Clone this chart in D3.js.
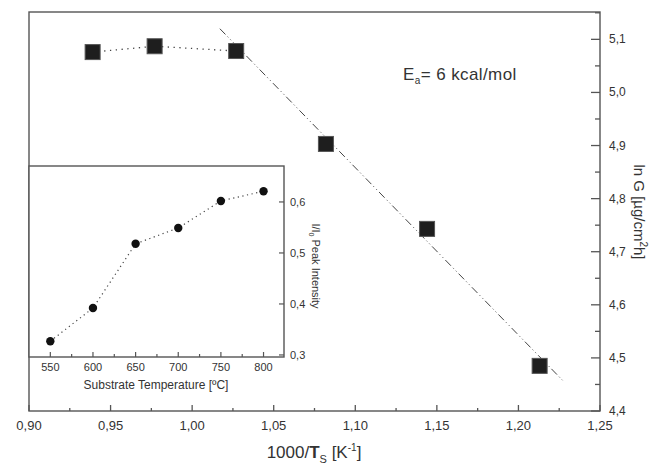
<!DOCTYPE html>
<html><head><meta charset="utf-8">
<script src="https://cdn.jsdelivr.net/npm/d3@7"></script>
<style>body{margin:0;background:#fff}svg{display:block}text{font-family:"Liberation Sans",Arial,sans-serif;fill:#333}</style>
</head><body><svg id="c" width="657" height="466"></svg>
<script>
// Main data: 1000/Ts vs ln G
const mainX = [0.939, 0.977, 1.027, 1.082, 1.144, 1.213];
const mainY = [5.076, 5.087, 5.078, 4.903, 4.743, 4.485];
// Arrhenius fit line endpoints
const fitX = [1.017, 1.227];
const fitY = [5.12, 4.458];
const xTicks = [0.90, 0.95, 1.00, 1.05, 1.10, 1.15, 1.20, 1.25];
const yTicks = [4.4, 4.5, 4.6, 4.7, 4.8, 4.9, 5.0, 5.1];
// Inset: substrate temperature vs I/I0 peak intensity
const insetX = [550, 600, 650, 700, 750, 800];
const insetY = [0.327, 0.392, 0.518, 0.549, 0.602, 0.621];
const insetXTicks = [550, 600, 650, 700, 750, 800];
const insetYTicks = [0.3, 0.4, 0.5, 0.6];

const svg = d3.select("#c");
const axisCol = "#555";
const fmt = d => d3.format(".2f")(d).replace(".", ",");
const fmt1 = d => d3.format(".1f")(d).replace(".", ",");

const L = 29, R = 600, T = 12, B = 411;
const x = d3.scaleLinear().domain([0.90, 1.25]).range([L, R]);
const y = d3.scaleLinear().domain([4.4, 5.1515]).range([B, T]);

// frame
svg.append("rect").attr("x", L).attr("y", T).attr("width", R - L).attr("height", B - T)
  .attr("fill", "none").attr("stroke", axisCol).attr("stroke-width", 1.4);

// x axis ticks (inward)
const xMinor = d3.range(0.925, 1.25, 0.05);
const gx = svg.append("g");
gx.selectAll("line.maj").data(xTicks).join("line")
  .attr("x1", d => x(d)).attr("x2", d => x(d)).attr("y1", B).attr("y2", B - 6)
  .attr("stroke", axisCol).attr("stroke-width", 1.3);
gx.selectAll("line.min").data(xMinor).join("line")
  .attr("x1", d => x(d)).attr("x2", d => x(d)).attr("y1", B).attr("y2", B - 3)
  .attr("stroke", axisCol).attr("stroke-width", 1.3);
gx.selectAll("text").data(xTicks).join("text")
  .attr("x", d => x(d)).attr("y", B + 19).attr("text-anchor", "middle")
  .attr("font-size", 13).text(fmt);

// right y axis ticks (inward)
const yMinor = d3.range(4.45, 5.15, 0.1);
const gy = svg.append("g");
gy.selectAll("line.maj").data(yTicks).join("line")
  .attr("x1", R).attr("x2", R - 9).attr("y1", d => y(d)).attr("y2", d => y(d))
  .attr("stroke", axisCol).attr("stroke-width", 1.3);
gy.selectAll("line.min").data(yMinor).join("line")
  .attr("x1", R).attr("x2", R - 5).attr("y1", d => y(d)).attr("y2", d => y(d))
  .attr("stroke", axisCol).attr("stroke-width", 1.3);
gy.selectAll("text").data(yTicks).join("text")
  .attr("x", R + 9).attr("y", d => y(d) + 4).attr("font-size", 12).text(fmt1);

// axis titles
const xt = svg.append("text").attr("x", 314).attr("y", 458).attr("text-anchor", "middle").attr("font-size", 17);
xt.append("tspan").text("1000/");
xt.append("tspan").attr("font-weight", "bold").text("T");
xt.append("tspan").attr("font-size", 11).attr("dy", 5).text("S");
xt.append("tspan").attr("dy", -5).text("  [K");
xt.append("tspan").attr("font-size", 10).attr("dy", -7).text("-1");
xt.append("tspan").attr("dy", 7).text("]");

const yt = svg.append("text").attr("transform", "translate(634,212) rotate(90)")
  .attr("text-anchor", "middle").attr("font-size", 15);
yt.append("tspan").text("ln G [µg/cm");
yt.append("tspan").attr("font-size", 10).attr("dy", -6).text("2");
yt.append("tspan").attr("dy", 6).text("h]");

// Ea annotation
const ea = svg.append("text").attr("x", 403).attr("y", 80).attr("font-size", 17).attr("letter-spacing", 0.4);
ea.append("tspan").text("E");
ea.append("tspan").attr("font-size", 10).attr("dy", 4).text("a");
ea.append("tspan").attr("dy", -4).text("= 6 kcal/mol");

// dotted connection of plateau points
const line = d3.line().x(d => x(d[0])).y(d => y(d[1]));
const plateau = mainX.slice(0, 3).map((v, i) => [v, mainY[i]]);
svg.append("path").attr("d", line(plateau)).attr("fill", "none")
  .attr("stroke", "#444").attr("stroke-width", 1.3).attr("stroke-dasharray", "1.3,4.5");

// fit line
svg.append("path").attr("d", line(fitX.map((v, i) => [v, fitY[i]]))).attr("fill", "none")
  .attr("stroke", "#444").attr("stroke-width", 1).attr("stroke-dasharray", "8,3,1,3,1,3");

// inset
const iL = 29, iR = 284, iT = 166, iB = 357;
const ix = d3.scaleLinear().domain([525, 824]).range([iL, iR]);
const iy = d3.scaleLinear().domain([0.296, 0.6705]).range([iB, iT]);
svg.append("rect").attr("x", iL).attr("y", iT).attr("width", iR - iL).attr("height", iB - iT)
  .attr("fill", "#fff").attr("stroke", axisCol).attr("stroke-width", 1.4);

const ixMinor = d3.range(575, 800, 50);
const gi = svg.append("g");
gi.selectAll("line.maj").data(insetXTicks).join("line")
  .attr("x1", d => ix(d)).attr("x2", d => ix(d)).attr("y1", iB).attr("y2", iB - 5)
  .attr("stroke", axisCol).attr("stroke-width", 1.2);
gi.selectAll("line.min").data(ixMinor).join("line")
  .attr("x1", d => ix(d)).attr("x2", d => ix(d)).attr("y1", iB).attr("y2", iB - 3)
  .attr("stroke", axisCol).attr("stroke-width", 1.2);
gi.selectAll("text").data(insetXTicks).join("text")
  .attr("x", d => ix(d)).attr("y", iB + 14).attr("text-anchor", "middle")
  .attr("font-size", 11).text(d => d);

gi.selectAll("line.ymaj").data(insetYTicks).join("line")
  .attr("x1", iR).attr("x2", iR - 5).attr("y1", d => iy(d)).attr("y2", d => iy(d))
  .attr("stroke", axisCol).attr("stroke-width", 1.2);
gi.selectAll("text.yl").data(insetYTicks).join("text")
  .attr("x", iR + 6).attr("y", d => iy(d) + 4).attr("font-size", 11).text(fmt1);

svg.append("text").attr("x", 156).attr("y", 389).attr("text-anchor", "middle")
  .attr("font-size", 12).text("Substrate Temperature [ºC]");
const it = svg.append("text").attr("transform", "translate(312,266) rotate(90)")
  .attr("text-anchor", "middle").attr("font-size", 11);
it.append("tspan").text("I/I");
it.append("tspan").attr("font-size", 7).attr("dy", 3).text("0");
it.append("tspan").attr("dy", -3).text("  Peak  Intensity");

const iline = d3.line().x(d => ix(d[0])).y(d => iy(d[1]));
const ipts = insetX.map((v, i) => [v, insetY[i]]);
svg.append("path").attr("d", iline(ipts)).attr("fill", "none")
  .attr("stroke", "#444").attr("stroke-width", 1.2).attr("stroke-dasharray", "1.2,3.5");
svg.selectAll("circle.ip").data(ipts).join("circle")
  .attr("cx", d => ix(d[0])).attr("cy", d => iy(d[1])).attr("r", 4.2).attr("fill", "#111");

// main squares
const s = 15;
svg.selectAll("rect.mp").data(mainX.map((v, i) => [v, mainY[i]])).join("rect")
  .attr("x", d => x(d[0]) - s / 2).attr("y", d => y(d[1]) - s / 2)
  .attr("width", s).attr("height", s).attr("fill", "#1e1e1e").attr("stroke", "#555").attr("stroke-width", 1);
</script></body></html>
